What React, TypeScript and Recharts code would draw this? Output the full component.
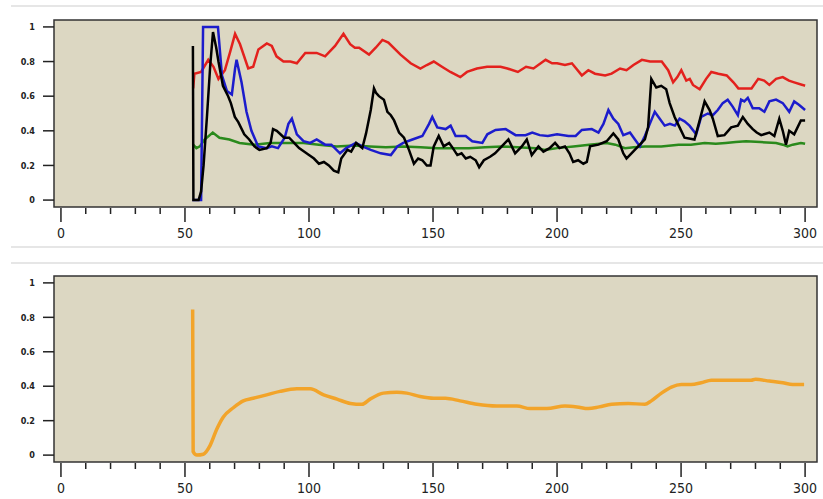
import { CartesianGrid, Line, LineChart, ReferenceArea, XAxis, YAxis } from "recharts";

const FONT = "'Liberation Sans Narrow', 'DejaVu Sans Condensed', 'Liberation Sans', sans-serif";

const xTicks = [
  0, 10, 20, 30, 40, 50, 60, 70, 80, 90, 100, 110, 120, 130, 140, 150, 160, 170, 180, 190, 200,
  210, 220, 230, 240, 250, 260, 270, 280, 290, 300,
];
const yTicks = [0, 0.2, 0.4, 0.6, 0.8, 1];
const xDomain: [number, number] = [-2.8, 304.8];
const yDomain: [number, number] = [-0.04, 1.04];

const blackX = [
  53.2, 53.4, 55.5, 56.5, 57.5, 58.9, 60.2, 61.3, 62.6, 63.5, 65.3, 67.4, 68.5, 70.1, 71.5, 73.9,
  75.9, 78, 80, 83, 84.5, 85.5, 87, 88.5, 90, 92, 94, 96, 98, 100, 102, 104, 106, 108, 110, 111.8,
  113, 115.5, 117, 119, 121.5, 123, 124.9, 126.2, 127, 128.2, 130.2, 131.6, 133, 134.3, 136.3,
  138.3, 140.3, 142.3, 144, 145.7, 147.5, 149, 150.3, 152.3, 154.3, 156.5, 158, 159.8, 161.5,
  163.2, 165, 167.2, 168.6, 170.5, 173, 175, 177.7, 180.4, 183.1, 185.8, 187.8, 189.8, 192.5,
  194.5, 197, 199.2, 201, 203.2, 205, 206.5, 208.5, 210.6, 212, 213.3, 216.7, 220, 222.7, 224.7,
  226.7, 228, 230, 232.7, 235.4, 236.7, 238, 240, 242, 244, 245.4, 247.4, 249.4, 251.4, 255.4,
  257.5, 259.5, 261.5, 262.8, 264.8, 267.5, 270.2, 272.9, 274.9, 276.9, 278.9, 280.5, 282.3,
  285.6, 287.6, 289.6, 291, 292.3, 293.6, 295.6, 298.3, 300,
];
const blackY = [
  0.89, 0, 0, 0.05, 0.2, 0.49, 0.78, 0.97, 0.88, 0.8, 0.66, 0.6, 0.56, 0.48, 0.45, 0.38, 0.35,
  0.31, 0.29, 0.3, 0.33, 0.41, 0.4, 0.38, 0.36, 0.36, 0.33, 0.3, 0.28, 0.26, 0.24, 0.21, 0.22,
  0.2, 0.17, 0.16, 0.24, 0.29, 0.28, 0.33, 0.3, 0.385, 0.52, 0.645, 0.62, 0.6, 0.58, 0.51, 0.49,
  0.46, 0.39, 0.36, 0.29, 0.21, 0.24, 0.23, 0.2, 0.2, 0.31, 0.37, 0.31, 0.33, 0.3, 0.26, 0.27,
  0.24, 0.25, 0.23, 0.19, 0.23, 0.25, 0.27, 0.31, 0.35, 0.27, 0.31, 0.35, 0.26, 0.31, 0.28, 0.3,
  0.33, 0.3, 0.31, 0.27, 0.22, 0.23, 0.21, 0.22, 0.31, 0.32, 0.34, 0.385, 0.35, 0.27, 0.24, 0.27,
  0.31, 0.35, 0.42, 0.7, 0.65, 0.66, 0.64, 0.56, 0.48, 0.42, 0.36, 0.35, 0.46, 0.57, 0.52, 0.47,
  0.37, 0.375, 0.42, 0.43, 0.48, 0.44, 0.41, 0.39, 0.375, 0.39, 0.37, 0.47, 0.4, 0.32, 0.4, 0.38,
  0.46, 0.46,
];

const blueX = [
  53, 56.5, 57.3, 63.3, 64.9, 66.9, 68.9, 70.2, 70.8, 72.8, 74.8, 76.8, 79.5, 82.9, 85, 87.5,
  90.2, 91.7, 93.1, 95.1, 97.8, 100.5, 103.1, 106.5, 109, 112.5, 115, 118.9, 121.5, 124.9, 128.9,
  133, 135.6, 138, 141.7, 145.7, 148.4, 149.7, 151.7, 155.1, 157.1, 159.1, 163.2, 165.8, 169.9,
  171.9, 175.2, 179.3, 183.3, 187.3, 190, 193, 196.3, 200, 204.6, 207.5, 210, 214, 216.7, 218.7,
  220.7, 222.7, 224.7, 226.7, 229.4, 231.4, 233.4, 235.4, 237.4, 239.4, 241.4, 243.4, 245.5,
  247.5, 249.4, 251.4, 253.4, 256.1, 258.1, 260.8, 262.8, 264.8, 266.8, 268.8, 270.8, 272.9,
  274.2, 275.5, 276.9, 278.9, 281.5, 283.6, 285.6, 288.3, 291, 293.6, 295.6, 297.5, 300,
];
const blueY = [
  0, 0, 1, 1, 0.72, 0.63, 0.61, 0.76, 0.81, 0.68, 0.51, 0.4, 0.31, 0.3, 0.31, 0.3, 0.36, 0.44,
  0.47, 0.38, 0.34, 0.33, 0.35, 0.32, 0.32, 0.27, 0.3, 0.33, 0.31, 0.29, 0.27, 0.26, 0.31, 0.33,
  0.35, 0.37, 0.44, 0.48, 0.42, 0.41, 0.43, 0.37, 0.37, 0.34, 0.33, 0.38, 0.405, 0.41, 0.375,
  0.375, 0.39, 0.375, 0.37, 0.38, 0.37, 0.37, 0.405, 0.41, 0.39, 0.44, 0.52, 0.47, 0.44, 0.375,
  0.39, 0.35, 0.31, 0.37, 0.44, 0.51, 0.47, 0.43, 0.44, 0.43, 0.47, 0.455, 0.43, 0.38, 0.48, 0.5,
  0.49, 0.52, 0.56, 0.58, 0.54, 0.49, 0.58, 0.57, 0.59, 0.53, 0.53, 0.51, 0.57, 0.58, 0.56, 0.51,
  0.57, 0.55, 0.52,
];

const redX = [
  53.3, 53.8, 56.5, 59.4, 61.5, 63.5, 66.1, 68.1, 70.2, 72.2, 75.5, 77.5, 79.6, 83, 85, 86.9,
  89.7, 92.5, 95.1, 98.5, 103.1, 106.5, 110.5, 113.9, 116.6, 118.5, 120.2, 124.2, 126.9, 129.6,
  132, 136.9, 141, 144.9, 147.5, 150.3, 153.6, 157, 161, 163.7, 167.7, 171.8, 177.2, 180, 184.2,
  187.5, 190.5, 195.4, 198, 200, 203.2, 206, 210, 212.6, 215.3, 219.4, 222, 225.4, 228, 230.8,
  234.2, 237.5, 242.2, 244.8, 246.8, 248.5, 250.1, 252.1, 253.5, 254.8, 257.5, 260.1, 262.2, 265,
  268.4, 271.1, 273.1, 278.4, 281.1, 283.5, 285.6, 288.3, 291, 293.5, 295.6, 299, 300,
];
const redY = [
  0.645, 0.73, 0.74, 0.81, 0.77, 0.7, 0.75, 0.85, 0.96, 0.9, 0.76, 0.77, 0.87, 0.905, 0.89, 0.83,
  0.8, 0.8, 0.79, 0.85, 0.85, 0.83, 0.89, 0.96, 0.9, 0.88, 0.88, 0.84, 0.88, 0.925, 0.91, 0.84,
  0.79, 0.76, 0.78, 0.8, 0.77, 0.74, 0.71, 0.74, 0.76, 0.77, 0.77, 0.76, 0.74, 0.77, 0.76, 0.81,
  0.79, 0.79, 0.78, 0.79, 0.72, 0.75, 0.73, 0.72, 0.73, 0.76, 0.75, 0.78, 0.81, 0.8, 0.8, 0.75,
  0.68, 0.71, 0.75, 0.69, 0.7, 0.665, 0.64, 0.7, 0.74, 0.73, 0.72, 0.68, 0.645, 0.645, 0.7, 0.69,
  0.665, 0.7, 0.71, 0.69, 0.68, 0.665, 0.66,
];

const greenX = [
  53.3, 54.6, 56, 57.9, 61.2, 63.9, 67.9, 72, 78, 84.3, 90, 97.8, 104, 111.2, 118, 124.6, 131, 138,
  145, 151.7, 158, 164.5, 171, 177.9, 184, 191.3, 195.2, 200, 206.6, 213, 220, 223.5, 227.4, 231,
  235.4, 242, 249, 254, 259.5, 264, 268, 272, 276.2, 282, 288.3, 291, 292.9, 295, 298.3, 300,
];
const greenY = [
  0.32, 0.3, 0.31, 0.35, 0.39, 0.36, 0.35, 0.33, 0.32, 0.33, 0.33, 0.33, 0.32, 0.31, 0.315, 0.31,
  0.305, 0.31, 0.305, 0.3, 0.3, 0.3, 0.305, 0.31, 0.305, 0.3, 0.29, 0.3, 0.31, 0.32, 0.33, 0.32,
  0.3, 0.305, 0.31, 0.31, 0.32, 0.32, 0.33, 0.325, 0.33, 0.335, 0.34, 0.335, 0.33, 0.32, 0.31,
  0.32, 0.33, 0.325,
];

const orangeX = [
  53.1, 53.3, 54.8, 57.4, 60.1, 62.8, 65.4, 69.5, 73.5, 77.5, 82.9, 88.3, 95.1, 100.5, 105.9,
  111.3, 116.7, 121.4, 124.6, 130, 135.4, 139.4, 144.8, 150.3, 155, 160.9, 167.7, 175.7, 183.8,
  189.2, 195.9, 203.2, 208, 212.6, 217, 222, 228.7, 235.4, 238, 242.1, 246.1, 250.1, 254, 258.1,
  262.2, 268.8, 278.2, 280, 285.6, 291, 295, 299.6,
];
const orangeY = [
  0.845, 0.02, 0, 0.005, 0.055, 0.15, 0.22, 0.275, 0.315, 0.33, 0.35, 0.37, 0.385, 0.385, 0.35,
  0.325, 0.3, 0.295, 0.325, 0.36, 0.365, 0.36, 0.34, 0.33, 0.33, 0.315, 0.295, 0.285, 0.285, 0.27,
  0.27, 0.285, 0.28, 0.27, 0.28, 0.295, 0.3, 0.295, 0.315, 0.36, 0.395, 0.41, 0.41, 0.42, 0.435,
  0.435, 0.435, 0.44, 0.43, 0.42, 0.41, 0.41,
];

function zip(xs: number[], ys: number[]) {
  return xs.map((x, i) => ({ x, y: ys[i] }));
}

function XTick(props: { x?: number; y?: number; payload?: { value: number } }) {
  const { x = 0, y = 0, payload } = props;
  const v = payload?.value ?? 0;
  const major = v % 50 === 0;
  return (
    <g>
      <line x1={x} x2={x} y1={y + 1} y2={y + (major ? 15 : 7)} stroke="#222" strokeWidth={1.5} />
      {major ? (
        <text x={x} y={y + 31} textAnchor="middle" fontSize={14} fontFamily={FONT} fill="#222">
          {v}
        </text>
      ) : null}
    </g>
  );
}

type Series = {
  key: string;
  data: { x: number; y: number }[];
  color: string;
  width: number;
  curve: "linear" | "monotone";
};

function Panel({ height, bottom, series }: { height: number; bottom: number; series: Series[] }) {
  return (
    <LineChart width={823} height={height} margin={{ top: 20, right: 6, left: 0, bottom }}>
      <CartesianGrid horizontal={false} vertical={false} fill="#dcd7c2" />
      <XAxis
        dataKey="x"
        type="number"
        domain={xDomain}
        ticks={xTicks}
        interval={0}
        allowDataOverflow
        axisLine={false}
        tickLine={false}
        tickSize={0}
        tickMargin={0}
        height={30}
        tick={<XTick />}
      />
      <YAxis
        type="number"
        domain={yDomain}
        ticks={yTicks}
        allowDataOverflow
        width={54}
        axisLine={false}
        tickSize={11}
        tickMargin={8}
        tickLine={{ stroke: "#222", strokeWidth: 1.5 }}
        tick={{ fontSize: 9, fill: "#222", fontFamily: FONT, fontWeight: "bold" }}
      />
      {series.map((s) => (
        <Line
          key={s.key}
          data={s.data}
          dataKey="y"
          type={s.curve}
          stroke={s.color}
          strokeWidth={s.width}
          dot={false}
          activeDot={false}
          isAnimationActive={false}
        />
      ))}
      <ReferenceArea
        x1={xDomain[0]}
        x2={xDomain[1]}
        y1={yDomain[0]}
        y2={yDomain[1]}
        fill="none"
        stroke="#333"
        strokeWidth={1.5}
      />
    </LineChart>
  );
}

const topSeries: Series[] = [
  { key: "green", data: zip(greenX, greenY), color: "#2a8a1c", width: 2.5, curve: "linear" },
  { key: "red", data: zip(redX, redY), color: "#e3211d", width: 2.5, curve: "linear" },
  { key: "blue", data: zip(blueX, blueY), color: "#1c1ccc", width: 2.5, curve: "linear" },
  { key: "black", data: zip(blackX, blackY), color: "#000000", width: 2.5, curve: "linear" },
];

const bottomSeries: Series[] = [
  { key: "orange", data: zip(orangeX, orangeY), color: "#f2a42a", width: 3.5, curve: "monotone" },
];

export default function App() {
  const sep = (top: number) => (
    <div
      style={{ position: "absolute", left: 11, top, width: 812, height: 2, background: "#e6e6e6" }}
    />
  );
  return (
    <div
      style={{
        position: "absolute",
        left: 0,
        top: 0,
        width: 823,
        height: 499,
        background: "#fff",
        overflow: "hidden",
      }}
    >
      {sep(5)}
      {sep(246)}
      {sep(262)}
      <div style={{ position: "absolute", left: 0, top: 0 }}>
        <Panel height={250} bottom={13} series={topSeries} />
      </div>
      <div style={{ position: "absolute", left: 0, top: 256 }}>
        <Panel height={243} bottom={7} series={bottomSeries} />
      </div>
    </div>
  );
}
